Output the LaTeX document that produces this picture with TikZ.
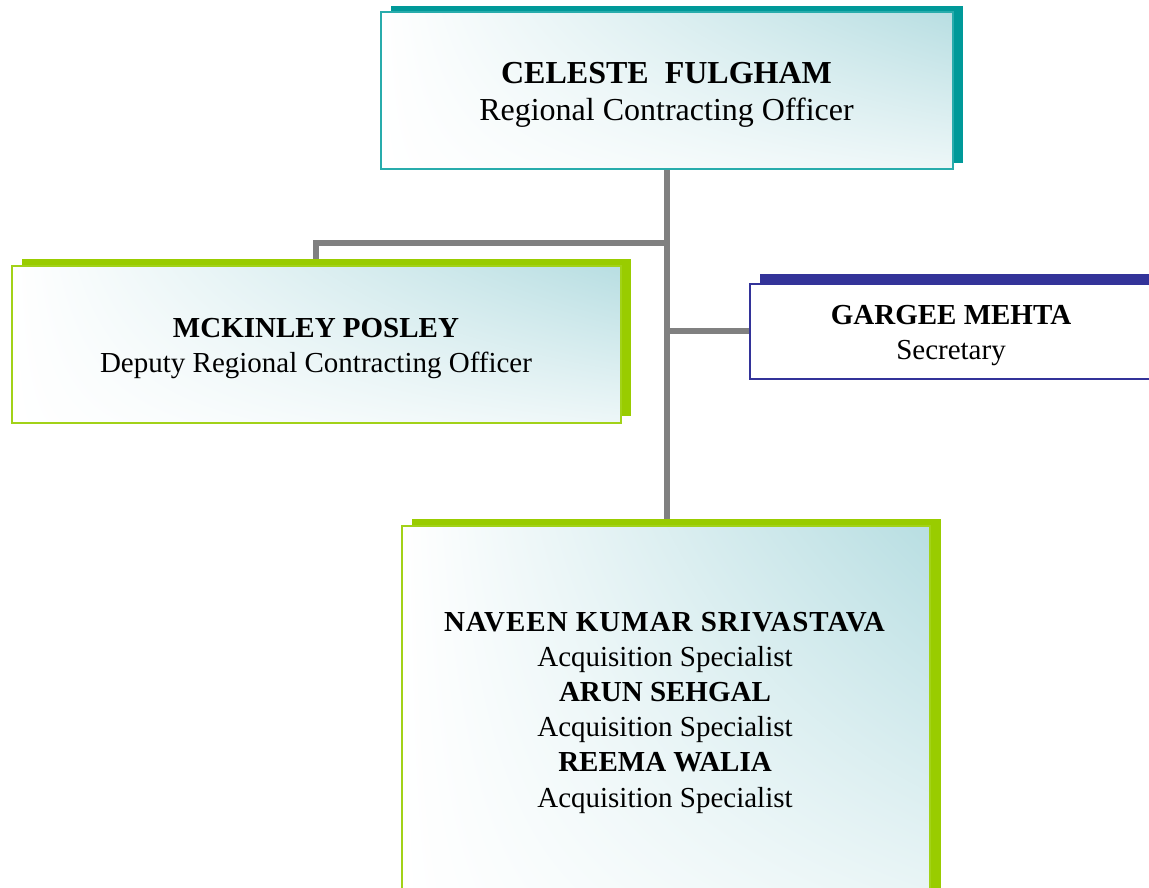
\documentclass[tikz,border=0pt]{standalone}
\usepackage{fontspec}
\setmainfont{Liberation Serif}
\usetikzlibrary{shadows,backgrounds,shadings}
\definecolor{tealdark}{RGB}{0,153,153}
\definecolor{tealline}{RGB}{40,172,172}
\definecolor{lime}{RGB}{153,204,0}
\definecolor{limeline}{RGB}{162,210,24}
\definecolor{navy}{RGB}{51,51,153}
\definecolor{glow}{RGB}{184,222,226}
\definecolor{conn}{RGB}{128,128,128}
\tikzset{
  card/.style={rectangle, line width=2pt, inner sep=0pt,
    upper left=white, lower left=white, lower right=glow!25, upper right=glow},
  tealcard/.style={card, draw=tealline,
    drop shadow={shadow xshift=10.5pt, shadow yshift=6.5pt, fill=tealdark, opacity=1}},
  limecard/.style={card, draw=limeline,
    drop shadow={shadow xshift=10.5pt, shadow yshift=7.5pt, fill=lime, opacity=1}},
  navycard/.style={rectangle, line width=2pt, inner sep=0pt, draw=navy, fill=white,
    drop shadow={shadow xshift=10.5pt, shadow yshift=9.5pt, fill=navy, opacity=1}},
  bigtxt/.style={align=center, inner sep=0pt, font=\fontsize{32}{36.5}\selectfont},
  txt/.style={align=center, inner sep=0pt, font=\fontsize{29}{35.2}\selectfont},
  link/.style={draw=conn, line width=6pt},
}
\begin{document}
\begin{tikzpicture}[x=1pt,y=-1pt]
\useasboundingbox (0,0) rectangle (1149,888);
\node[tealcard, minimum width=572pt, minimum height=157pt] (ceo) at (666.5,91) {};
\node[limecard, minimum width=609pt, minimum height=157pt] (deputy) at (316,344.5) {};
\node[navycard, minimum width=403pt, minimum height=95pt] (sec) at (951,331) {};
\node[limecard, minimum width=528.5pt, minimum height=400pt] (staff) at (665.75,726) {};
\node[bigtxt] (ceoT) at (666.5,95) {\textbf{CELESTE\ \ FULGHAM}\\Regional Contracting Officer};
\node[txt] (deputyT) at (316,348.5) {\textbf{MCKINLEY POSLEY}\\Deputy Regional Contracting Officer};
\node[txt] (secT) at (951,335.5) {\textbf{GARGEE MEHTA}\\Secretary};
\node[txt] (staffT) at (665,712.5) {{\addfontfeature{LetterSpace=3.4}\textbf{NAVEEN KUMAR SRIVASTAVA}}\\Acquisition Specialist\\\textbf{ARUN SEHGAL}\\Acquisition Specialist\\\textbf{REEMA WALIA}\\Acquisition Specialist};
\begin{pgfonlayer}{background}
\coordinate (j1) at (666,243);
\coordinate (j2) at (666,331);
\draw[link] (ceo.south) -- (ceo.south |- staff.north);
\draw[link] (j1) -| (deputy.north);
\draw[link] (j2) -- (sec.west);
\end{pgfonlayer}
\end{tikzpicture}
\end{document}
